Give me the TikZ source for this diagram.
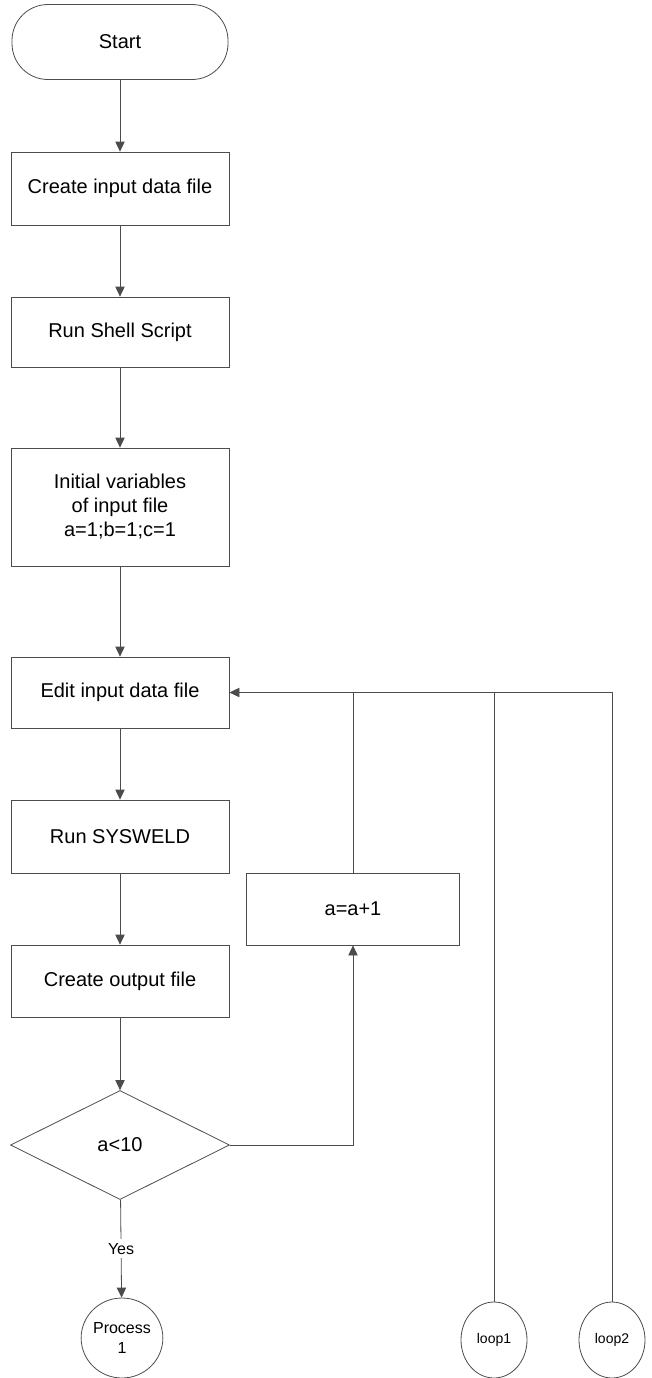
\documentclass[tikz,border=0pt]{standalone}
\usepackage{fontspec}
\setmainfont{Liberation Sans}
\usetikzlibrary{shapes.geometric,arrows.meta}
\begin{document}
\begin{tikzpicture}[x=0.75pt,y=-0.75pt,
  line/.style={draw=black!70,line width=0.6pt},
  arr/.style={line,-{Triangle[width=7pt,length=7.5pt]}},
  box/.style={line,rectangle,minimum width=218*0.75pt,inner sep=2pt,align=center,font=\fontsize{15}{18}\selectfont},
  term/.style={box,rounded corners=27pt,minimum width=216*0.75pt,minimum height=75*0.75pt},
  dec/.style={line,diamond,aspect=2,minimum width=219*0.75pt,minimum height=109*0.75pt,inner sep=0pt,font=\fontsize{15}{18}\selectfont},
  conn/.style={line,ellipse,inner sep=0pt,align=center}
]
\useasboundingbox (0,0) rectangle (652,1378);
\node[term] (start) at (120,42) {Start};
\node[box,minimum height=73*0.75pt] (create) at (120,188.5) {Create input data file};
\node[box,minimum height=70*0.75pt] (shell) at (120,332) {Run Shell Script};
\node[box,minimum height=118*0.75pt] (init) at (120,507) {Initial variables\\of input file\\a=1;b=1;c=1};
\node[box,minimum height=71*0.75pt] (edit) at (120,692.5) {Edit input data file};
\node[box,minimum height=73*0.75pt] (sysweld) at (120,836.5) {Run SYSWELD};
\node[box,minimum height=72*0.75pt] (output) at (120,981) {Create output file};
\node[dec] (cond) at (120,1145) {a<10};
\node[conn,minimum width=70*0.75pt,minimum height=80*0.75pt,font=\fontsize{12}{15}\selectfont] (proc) at (122,1338) {Process\\1};
\node[box,minimum width=213*0.75pt,minimum height=72*0.75pt] (inc) at (353,909) {a=a+1};
\node[conn,minimum width=66*0.75pt,minimum height=76*0.75pt,font=\fontsize{10.5}{12}\selectfont] (loop1) at (494,1340) {loop1};
\node[conn,minimum width=66*0.75pt,minimum height=76*0.75pt,font=\fontsize{10.5}{12}\selectfont] (loop2) at (612,1340) {loop2};

\draw[arr] (start) -- (create);
\draw[arr] (create) -- (shell);
\draw[arr] (shell) -- (init);
\draw[arr] (init) -- (edit);
\draw[arr] (edit) -- (sysweld);
\draw[arr] (sysweld) -- (output);
\draw[arr] (output) -- (cond);
\draw[arr] (cond) -- node[fill=white,inner sep=3pt,font=\fontsize{12}{14}\selectfont]{Yes} (proc);
\draw[arr] (cond.east) -| (inc.south);
\draw[arr] (loop2.north) |- (edit.east);
\draw[line] (loop1.north) -- (loop1.north |- edit.east);
\draw[line] (inc.north) -- (inc.north |- edit.east);
\end{tikzpicture}
\end{document}
